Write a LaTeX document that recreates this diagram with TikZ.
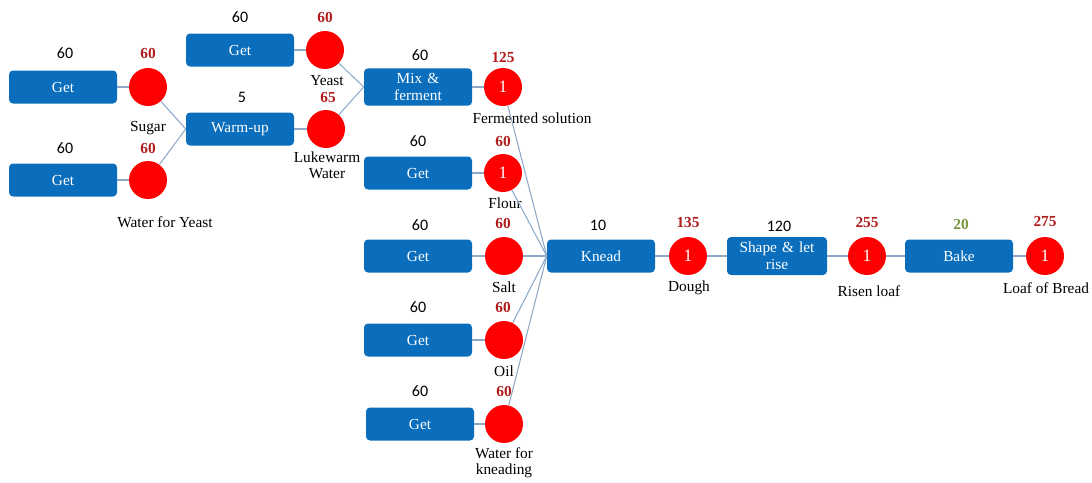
\documentclass[tikz,border=0pt]{standalone}
\usepackage{fontspec}
\setmainfont{Liberation Serif}
\newfontfamily\numfont{Carlito}
\definecolor{taskblue}{HTML}{0A6EBD}
\definecolor{linkblue}{HTML}{8EA9C8}
\definecolor{cumred}{HTML}{B01C1C}
\definecolor{bakegreen}{HTML}{77933C}
\begin{document}
\begin{tikzpicture}[x=0.75pt,y=-0.75pt,task/.style={fill=taskblue,rounded corners=3pt,text=white,align=center,text width=77pt,minimum height=24.75pt,inner sep=2pt,font=\fontsize{11.5}{12.5}\selectfont},stock/.style={circle,fill=red,text=white,minimum size=28.5pt,inner sep=0pt,font=\fontsize{13}{14}\selectfont},dur/.style={font=\numfont\fontsize{12}{13}\selectfont},cum/.style={text=cumred,font=\bfseries\fontsize{11.5}{12}\selectfont},lbl/.style={align=center,font=\fontsize{11.5}{12}\selectfont},link/.style={draw=linkblue,line width=0.8pt}]
\useasboundingbox (0,0) rectangle (1092,482);
\node[task] (getsugar) at (63,87) {Get};
\node[stock] (sugar) at (148,87) {};
\node[dur] (dsugar) at (65,53) {60};
\node[cum] (csugar) at (148,53) {60};
\node[lbl] (lsugar) at (148,128) {Sugar};
\node[task] (getwater) at (63,180) {Get};
\node[stock] (water) at (148,180) {};
\node[dur] (dwater) at (65,148) {60};
\node[cum] (cwater) at (148,148) {60};
\node[lbl] (lwater) at (165,222) {Water for Yeast};
\node[task] (getyeast) at (240,50) {Get};
\node[stock] (yeast) at (325,50) {};
\node[dur] (dyeast) at (240,17) {60};
\node[cum] (cyeast) at (325,17) {60};
\node[lbl] (lyeast) at (327,81) {Yeast};
\node[task] (warm) at (240,129) {Warm-up};
\node[stock] (luke) at (326,129) {};
\node[dur] (dwarm) at (242,97) {5};
\node[cum] (cluke) at (328,97) {65};
\node[lbl] (lluke) at (327,165) {Lukewarm\\Water};
\node[task,minimum height=28pt] (mix) at (418,87) {Mix \&\\ferment};
\node[stock] (ferm) at (503,87) {1};
\node[dur] (dmix) at (420,55) {60};
\node[cum] (cferm) at (503,57) {125};
\node[lbl] (lferm) at (532,118) {Fermented solution};
\node[task] (getflour) at (418,173) {Get};
\node[stock] (flour) at (503,173) {1};
\node[dur] (dflour) at (418,141) {60};
\node[cum] (cflour) at (503,141) {60};
\node[lbl] (lflour) at (505,203) {Flour};
\node[task] (getsalt) at (418,256) {Get};
\node[stock] (salt) at (504,256) {};
\node[dur] (dsalt) at (420,225) {60};
\node[cum] (csalt) at (503,223) {60};
\node[lbl] (lsalt) at (504,287) {Salt};
\node[task] (getoil) at (418,340) {Get};
\node[stock] (oil) at (504,340) {};
\node[dur] (doil) at (418,307) {60};
\node[cum] (coil) at (503,307) {60};
\node[lbl] (loil) at (504,371) {Oil};
\node[task] (getkwater) at (420,424) {Get};
\node[stock] (kwater) at (504,424) {};
\node[dur] (dkwater) at (420,391) {60};
\node[cum] (ckwater) at (504,391) {60};
\node[lbl] (lkwater) at (504,463) {Water for\\kneading};
\node[task] (knead) at (601,256) {Knead};
\node[stock] (dough) at (688,256) {1};
\node[dur] (dknead) at (598,225) {10};
\node[cum] (cdough) at (688,222) {135};
\node[lbl] (ldough) at (689,288) {Dough};
\node[task,text width=71pt,minimum height=28.5pt] (shape) at (777,256) {Shape \& let\\rise};
\node[stock] (risen) at (867,256) {1};
\node[dur] (dshape) at (779,226) {120};
\node[cum] (crisen) at (867,222) {255};
\node[lbl] (lrisen) at (869,291) {Risen loaf};
\node[task] (bake) at (959,256) {Bake};
\node[stock] (loaf) at (1045,256) {1};
\node[dur,text=bakegreen,font=\bfseries\fontsize{11.5}{12}\selectfont] (dbake) at (961,224) {20};
\node[cum] (cloaf) at (1045,221) {275};
\node[lbl] (lloaf) at (1046,288) {Loaf of Bread};
\draw[link] (getsugar) -- (sugar);
\draw[link] (getwater) -- (water);
\draw[link] (getyeast) -- (yeast);
\draw[link] (warm) -- (luke);
\draw[link] (mix) -- (ferm);
\draw[link] (getflour) -- (flour);
\draw[link] (getsalt) -- (salt);
\draw[link] (getoil) -- (oil);
\draw[link] (getkwater) -- (kwater);
\draw[link] (knead) -- (dough);
\draw[link] (shape) -- (risen);
\draw[link] (bake) -- (loaf);
\draw[link] (sugar) -- (warm.west);
\draw[link] (water) -- (warm.west);
\draw[link] (yeast) -- (mix.west);
\draw[link] (luke) -- (mix.west);
\draw[link] (ferm) -- (knead.west);
\draw[link] (flour) -- (knead.west);
\draw[link] (salt) -- (knead.west);
\draw[link] (oil) -- (knead.west);
\draw[link] (kwater) -- (knead.west);
\draw[link] (dough) -- (shape.west);
\draw[link] (risen) -- (bake.west);
\end{tikzpicture}
\end{document}
